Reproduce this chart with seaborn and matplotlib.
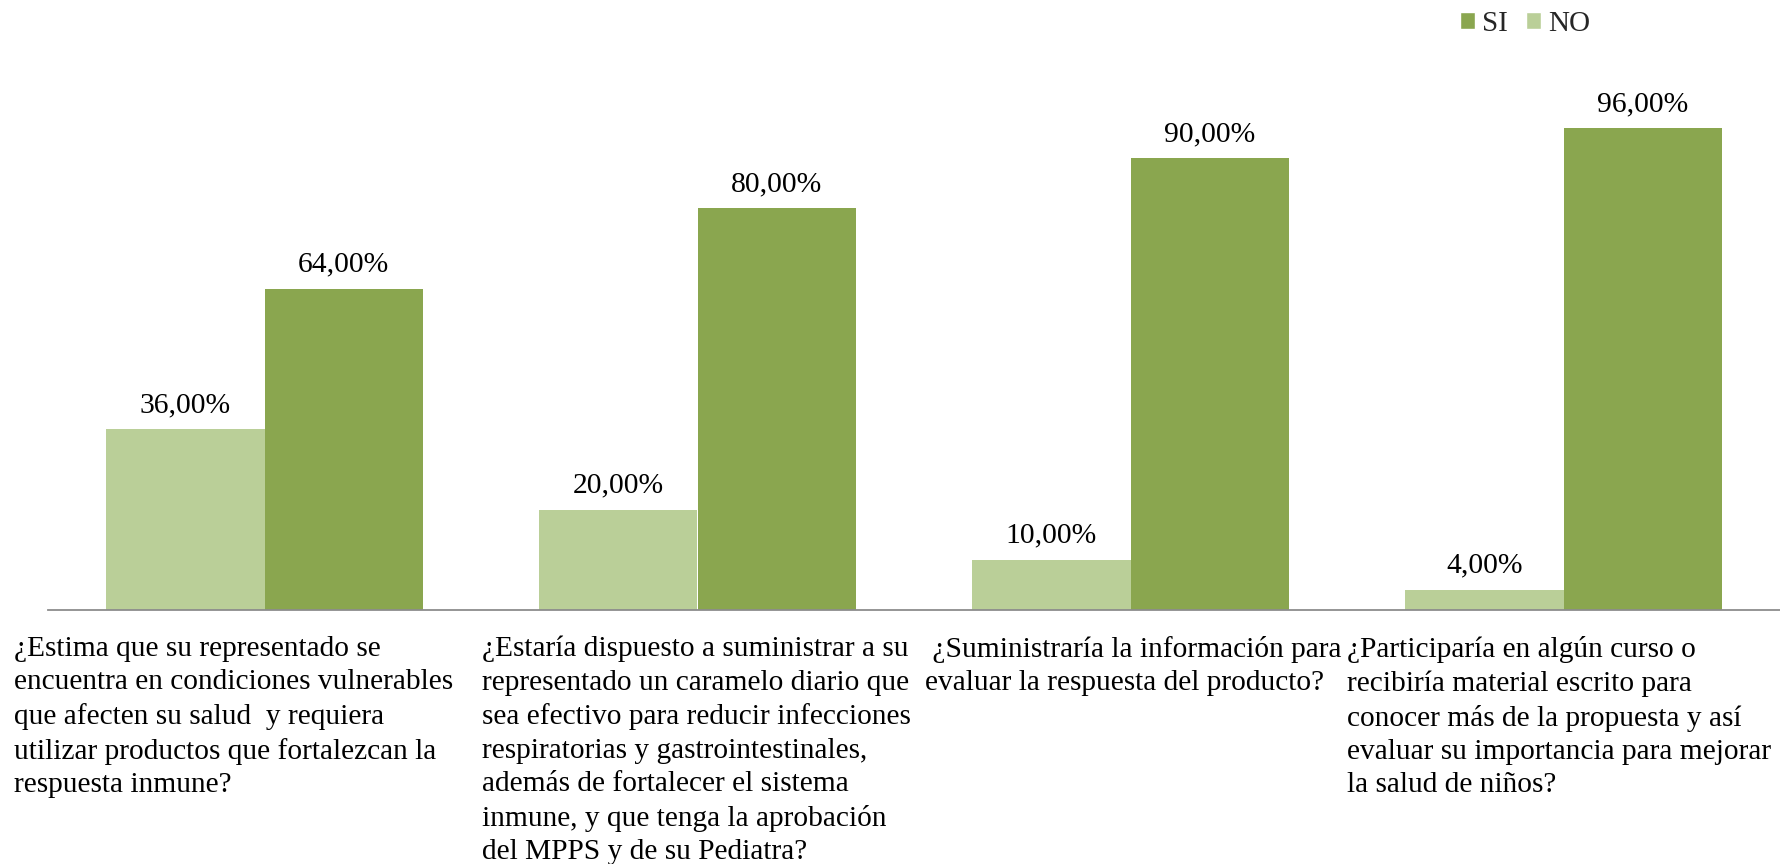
import matplotlib
matplotlib.use("Agg")
import matplotlib.pyplot as plt
from matplotlib.patches import Patch
import matplotlib.transforms as mtransforms
import pandas as pd
import seaborn as sns

# Survey questions (x categories)
preguntas = [
    "¿Estima que su representado se\nencuentra en condiciones vulnerables\nque afecten su salud  y requiera\nutilizar productos que fortalezcan la\nrespuesta inmune?",
    "¿Estaría dispuesto a suministrar a su\nrepresentado un caramelo diario que\nsea efectivo para reducir infecciones\nrespiratorias y gastrointestinales,\nademás de fortalecer el sistema\ninmune, y que tenga la aprobación\ndel MPPS y de su Pediatra?",
    " ¿Suministraría la información para\nevaluar la respuesta del producto?",
    "¿Participaría en algún curso o\nrecibiría material escrito para\nconocer más de la propuesta y así\nevaluar su importancia para mejorar\nla salud de niños?",
]
respuestas = ["NO", "SI"]
valores_no = [36.0, 20.0, 10.0, 4.0]
valores_si = [64.0, 80.0, 90.0, 96.0]

colores = {"SI": "#8aa64f", "NO": "#bacf98"}

df = pd.DataFrame({
    "pregunta": list(range(len(preguntas))) * 2,
    "respuesta": ["NO"] * len(valores_no) + ["SI"] * len(valores_si),
    "valor": valores_no + valores_si,
})

sns.set_theme(style="white")
plt.rcParams["font.family"] = ["Liberation Serif", "DejaVu Serif"]

fig = plt.figure(figsize=(17.8, 8.64), dpi=100)
ax = fig.add_axes([48 / 1780, 1 - 610 / 864, 1 - 48 / 1780, (610 - 108) / 864])

sns.barplot(data=df, x="pregunta", y="valor", hue="respuesta",
            hue_order=respuestas, palette=colores, width=0.73, gap=0,
            saturation=1, linewidth=0, legend=False, ax=ax)

ax.set_xlim(-0.5, len(preguntas) - 0.5)
ax.set_ylim(0, 100)
ax.set_xlabel("")
ax.set_ylabel("")
ax.set_xticks([])
ax.set_yticks([])
for side in ["top", "right", "left"]:
    ax.spines[side].set_visible(False)
ax.spines["bottom"].set_color("#8c8c8c")
ax.spines["bottom"].set_linewidth(1.3)

# Value labels above each bar
for cont in ax.containers:
    ax.bar_label(cont, labels=[f"{v:.2f}".replace(".", ",") + "%" for v in cont.datavalues],
                 padding=8, fontsize=21.3, color="black")

# Question texts below the baseline, left-aligned blocks
left_shift = [-0.578, -0.497, -0.474, -0.5]
trans = mtransforms.blended_transform_factory(ax.transData, ax.transAxes)
for i, txt in enumerate(preguntas):
    ax.text(i + left_shift[i], -26 / 502, txt, transform=trans, ha="left", va="top",
            fontsize=21.2, linespacing=1.365, color="black")

handles = [Patch(facecolor=colores["SI"], label="SI"),
           Patch(facecolor=colores["NO"], label="NO")]
fig.legend(handles=handles, loc="center", bbox_to_anchor=(1525 / 1780, 1 - 24 / 864),
           ncol=2, frameon=False, fontsize=21, handlelength=0.52, handleheight=0.52,
           handletextpad=0.25, columnspacing=0.6, borderpad=0, borderaxespad=0)

fig.savefig("out.png", dpi=100)
